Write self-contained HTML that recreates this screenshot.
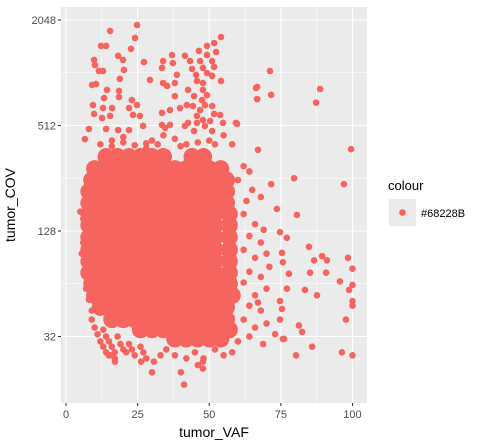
<!DOCTYPE html>
<html><head><meta charset="utf-8"><style>
body{margin:0;background:#fff;font-family:"Liberation Sans",sans-serif}
svg{display:block}
</style></head><body>
<svg id="chart" width="478" height="446" viewBox="0 0 478 446">
<rect x="61" y="7" width="306" height="396" fill="#ebebeb"/>
<g id="grid"></g>
<g id="marks"></g>
<g id="axes"></g>
<text x="15" y="205" transform="rotate(-90 15 205)" text-anchor="middle" font-size="14" fill="#000">tumor_COV</text>
<text x="214" y="437" text-anchor="middle" font-size="14" fill="#000">tumor_VAF</text>
<g>
<text x="388" y="190" font-size="13" fill="#000">colour</text>
<rect x="389" y="199" width="27" height="27" fill="#ebebeb"/>
<circle cx="402.5" cy="212.5" r="3.3" fill="#F5645E"/>
<text x="421" y="217" font-size="11" fill="#000">#68228B</text>
</g>
</svg>
<script>
const xTicks=[0,25,50,75,100];
const xMinor=[12.5,37.5,62.5,87.5];
const yTicks=[32,128,512,2048];
const yMinor=[8,64,256,1024];
// dense core rows: coverage per row, VAF values in that row
const coreCov=[340,290,250,215,185,160,138,118,100,86,74,64,55,47,40,35,31];
const coreVaf=[
[14,18,22,26,30,34,44,48],
[10,14,18,22,26,30,34,38,42,46,50,54],
[9,13,17,21,25,29,33,37,41,45,49,53,56],
[8,12,16,20,24,28,32,36,40,44,48,52,56],
[8,12,16,20,24,28,32,36,40,44,48,52,56],
[8,12,16,20,24,28,32,36,40,44,48,52,57],
[8,12,16,20,24,28,32,36,40,44,48,52,57],
[8,12,16,20,24,28,32,36,40,44,48,52,57],
[8,12,16,20,24,28,32,36,40,44,48,52,57],
[8,12,16,20,24,28,32,36,40,44,48,52,57],
[8,12,16,20,24,28,32,36,40,44,48,52,57],
[9,13,17,21,25,29,33,37,41,45,49,53,57],
[10,14,18,22,26,30,34,38,42,46,50,54,58],
[12,16,20,24,28,32,36,40,44,48,52,56],
[16,20,24,28,32,36,40,44,48,52,56],
[26,30,34,38,42,46,50,54,57],
[38,42,46,50,54]];
const sparseVaf=[71.2,66.3,66.7,71.6,88.7,87.3,59.3,99.5,67,79.6,97,71.6,80.6,73.6,74.7,77.1,84.8,89.4,86.6,91.1,98.4,100,85.2,90.8,77.8,95.6,100,98.8,83.4,87.6,77.1,100,100,97.7,81.3,82.4,85.9,80.3,96.3,100,75.4,75.7,74.7,75.7,74.7,75.4,73,76.1,68.8,40.1,41.2,30,47.8,47.8,26.2,30.7,17.1,15.4,
24.8,15.4,24.1,12.2,14,22.7,18.2,19.9,9.8,10.1,11.5,12.9,20.2,27.2,18.8,29.3,9.1,10.5,14.3,18.5,13.3,18.5,23,24.8,9.4,12.9,16.1,22,9.8,12.6,15.4,23.4,25.8,8,14,18.2,22,26.9,6.6,
37,33.9,37.3,41.5,33.5,33.9,35.3,38.7,38,38,36.3,39.8,42.6,33.5,33.5,36.3,34.6,41.5,42.6,45.7,44.7,
54.1,51.7,49.2,46.4,52.4,49.2,43.3,46.8,51,44,47.8,51.7,45.4,49.2,51,54.1,45.7,47.8,47.8,49.2,44.7,47.5,48.5,51,42.2,44.3,46.8,51.7,53.8,45.7,47.8,50.3,54.8,59.7,48.5,51,66.7,66.7,
62,64,60,65,63,68,62,66,64,68,62,66,70,64,68,62,66,70,64,68,62,66,70,64,60,67,71,69,
9,10,11,12,13,14,15,13,14,15,16,17,17,18,19,20,21,22,23,24,26,27,28,9,8,7,6,5.5,6,5,
30,34,38,42,28,50,55,58,20,16,
35,38,42,45,48,52,55,58,33,46,
12,16,20,24,28,32,40,46,52];
const sparseCov=[1048,838,724,766,827,691,530,375,372,256,237,237,158,171,126,117,104,92,87,87,90,78,74,74,73,66,63,59,59,55,60,51,48,40,37,34,28,25,26,25,96,85,40,31,51,46,33,31,29,20,17,20,21,23,23,23,23,25,
1918,1774,1619,1457,1457,1401,1279,1212,1212,1132,1048,1048,1062,1178,945,932,872,883,817,806,734,744,715,670,670,644,644,644,596,565,581,588,581,489,489,482,482,509,428,
1293,1194,1163,1279,1092,895,861,997,895,753,627,644,817,604,516,516,496,509,530,530,476,
1637,1512,1457,1363,1345,1293,1194,1194,1194,1077,1092,1106,997,1020,983,919,919,895,817,763,753,715,670,661,670,661,627,596,588,581,550,543,530,523,509,476,850,725,
300,280,250,220,190,200,160,140,120,110,100,90,95,75,70,65,55,60,48,45,40,36,38,32,30,50,80,130,
40,36,33,30,28,26,25,35,32,30,28,26,24,32,29,27,26,29,27,25,28,26,24,45,52,60,110,95,150,165,
420,450,430,400,380,420,450,400,440,420,
27,25,24,26,24,27,25,26,25,22,
400,390,410,395,405,400,390,410,400];

const NS='http://www.w3.org/2000/svg';
const X0=61,X1=367,Y0=7,Y1=403;
function xs(v){return 66+v*2.865;}
function ys(c){return 20+(11-Math.log2(c))*52.75;}
const grid=document.getElementById('grid'),marks=document.getElementById('marks'),axes=document.getElementById('axes');
function line(p,x1,y1,x2,y2,st,w){const l=document.createElementNS(NS,'line');l.setAttribute('x1',x1);l.setAttribute('y1',y1);l.setAttribute('x2',x2);l.setAttribute('y2',y2);l.setAttribute('stroke',st);l.setAttribute('stroke-width',w);p.appendChild(l);return l;}
xMinor.forEach(v=>{const l=line(grid,xs(v),Y0,xs(v),Y1,'#fff',0.55);

});
yMinor.forEach(v=>{const l=line(grid,X0,ys(v),X1,ys(v),'#fff',0.55);

});
xTicks.forEach(v=>{const l=line(grid,xs(v),Y0,xs(v),Y1,'#fff',1.1);


const t=line(axes,xs(v),Y1,xs(v),Y1+3,'#333',1.1);


const tx=document.createElementNS(NS,'text');tx.setAttribute('x',xs(v));tx.setAttribute('y',418);tx.setAttribute('text-anchor','middle');tx.setAttribute('font-size','11');tx.setAttribute('fill','#4d4d4d');tx.textContent=v;


axes.appendChild(tx);});
yTicks.forEach(v=>{const l=line(grid,X0,ys(v),X1,ys(v),'#fff',1.1);


const t=line(axes,X0-3,ys(v),X0,ys(v),'#333',1.1);


const tx=document.createElementNS(NS,'text');tx.setAttribute('x',56);tx.setAttribute('y',ys(v)+4);tx.setAttribute('text-anchor','end');tx.setAttribute('font-size','11');tx.setAttribute('fill','#4d4d4d');tx.textContent=v;


axes.appendChild(tx);});
function dot(v,c,r){const e=document.createElementNS(NS,'circle');e.setAttribute('cx',xs(v));e.setAttribute('cy',ys(c));e.setAttribute('r',r);e.setAttribute('fill','#F5645E');marks.appendChild(e);return e;}
coreCov.forEach((c,i)=>{coreVaf[i].forEach(v=>{const e=dot(v,c,8.6);

});});
sparseVaf.forEach((v,i)=>{const e=dot(v,sparseCov[i],3.3);

});
</script>
</body></html>
